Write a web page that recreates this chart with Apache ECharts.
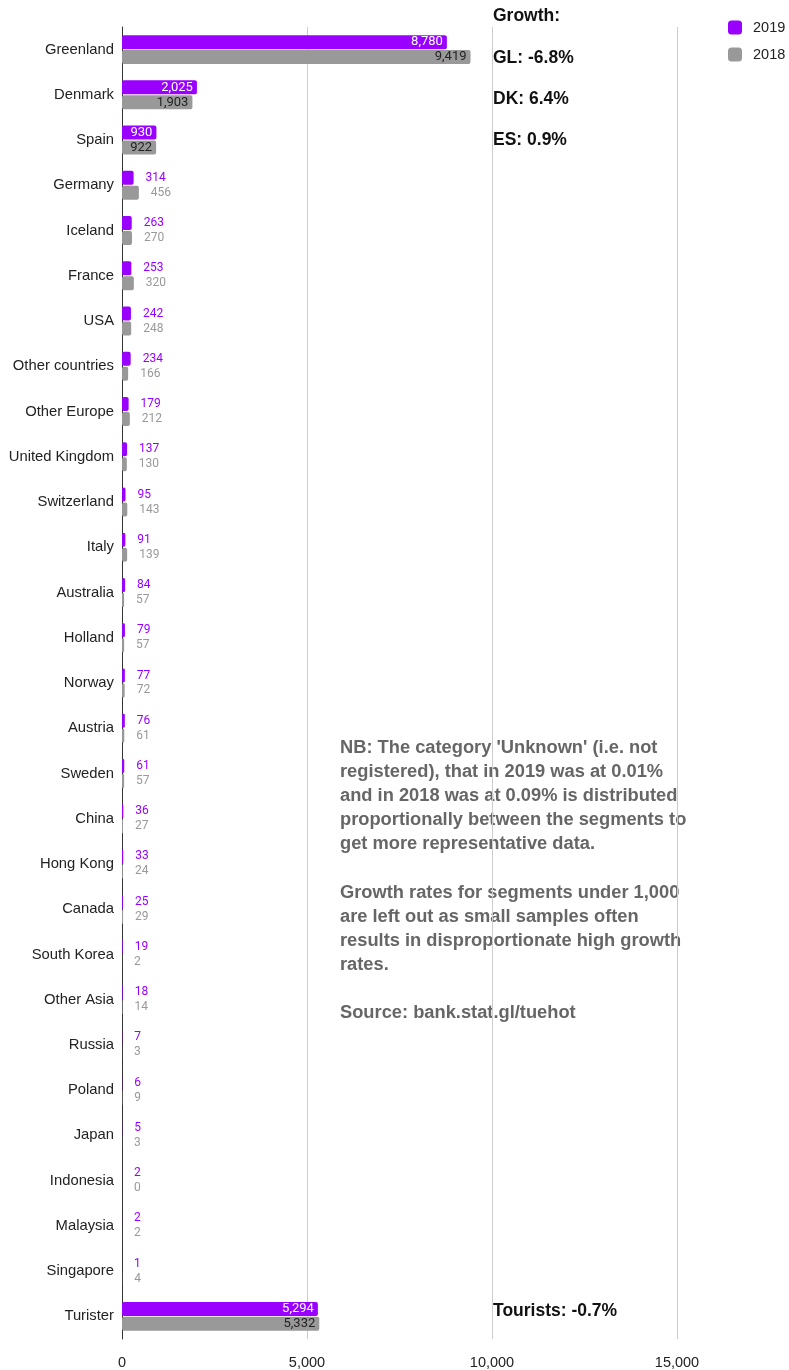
<!DOCTYPE html>
<html>
<head>
<meta charset="utf-8">
<script src="https://cdn.jsdelivr.net/npm/echarts@6/dist/echarts.min.js"></script>
<style>
  html, body { margin: 0; padding: 0; background: #fff; }
  #chart { width: 789px; height: 1370px; }
</style>
</head>
<body>
<div id="chart"></div>
<script>
// Overnight stays by nationality, 2019 vs 2018
const categories = [
  'Greenland', 'Denmark', 'Spain', 'Germany', 'Iceland', 'France', 'USA',
  'Other countries', 'Other Europe', 'United Kingdom', 'Switzerland', 'Italy',
  'Australia', 'Holland', 'Norway', 'Austria', 'Sweden', 'China', 'Hong Kong',
  'Canada', 'South Korea', 'Other Asia', 'Russia', 'Poland', 'Japan',
  'Indonesia', 'Malaysia', 'Singapore', 'Turister'
];
const values2019 = [
  8780, 2025, 930, 314, 263, 253, 242, 234, 179, 137, 95, 91, 84, 79, 77, 76,
  61, 36, 33, 25, 19, 18, 7, 6, 5, 2, 2, 1, 5294
];
const values2018 = [
  9419, 1903, 922, 456, 270, 320, 248, 166, 212, 130, 143, 139, 57, 57, 72, 61,
  57, 27, 24, 29, 2, 14, 3, 9, 3, 0, 2, 4, 5332
];
const xTicks = { min: 0, max: 18000, interval: 5000 };

// Growth annotations: short code -> category
const growthItems = [
  { code: 'GL', cat: 'Greenland', y: 58 },
  { code: 'DK', cat: 'Denmark', y: 99 },
  { code: 'ES', cat: 'Spain', y: 140 },
  { code: 'Tourists', cat: 'Turister', y: 1311 }
];

const noteText = [
  "NB: The category 'Unknown' (i.e. not",
  "registered), that in 2019 was at 0.01%",
  "and in 2018 was at 0.09% is distributed",
  "proportionally between the segments to",
  "get more representative data.",
  "",
  "Growth rates for segments under 1,000",
  "are left out as small samples often",
  "results in disproportionate high growth",
  "rates.",
  "",
  "Source: bank.stat.gl/tuehot"
].join('\n');

const PURPLE = '#9900ff';
const GREY = '#999999';
const fmt = v => Number(v).toLocaleString('en-US');

// big bars carry their label inside the bar end
function barData(values, insideColor) {
  return values.map(v => v >= 900
    ? { value: v, label: { position: 'insideRight', distance: 4, color: insideColor, fontSize: 13 } }
    : v);
}

function growth(cat) {
  const i = categories.indexOf(cat);
  const g = (values2019[i] - values2018[i]) / values2018[i] * 100;
  return g.toFixed(1) + '%';
}

const chart = echarts.init(document.getElementById('chart'));

const headFont = 'bold 17.5px "Liberation Sans", Arial';
const graphics = [
  {
    type: 'text', x: 493, y: 16,
    style: { text: 'Growth:', font: headFont, fill: '#111', verticalAlign: 'middle' }
  },
  ...growthItems.map(g => ({
    type: 'text', x: 493, y: g.y,
    style: {
      text: g.code + ': ' + growth(g.cat),
      font: headFont, fill: '#111', verticalAlign: 'middle'
    }
  })),
  {
    type: 'text', x: 340, y: 736,
    style: {
      text: noteText,
      font: 'bold 18.3px "Liberation Sans", Arial',
      lineHeight: 24.1,
      fill: '#666', verticalAlign: 'top'
    }
  }
];

chart.setOption({
  animation: false,
  textStyle: { fontFamily: '"Liberation Sans", Arial, sans-serif' },
  legend: {
    orient: 'vertical',
    left: 728, top: 20, padding: 0,
    itemWidth: 14, itemHeight: 14, itemGap: 12,
    icon: 'roundRect',
    data: ['2019', '2018'],
    textStyle: { fontSize: 14.5, color: '#222', padding: [0, 0, 0, 6] }
  },
  grid: { left: 122, top: 27, width: 666, height: 1313, containLabel: false },
  xAxis: {
    type: 'value',
    min: xTicks.min, max: xTicks.max, interval: xTicks.interval,
    axisLine: { show: false },
    axisTick: { show: false },
    axisLabel: {
      formatter: v => fmt(v), fontSize: 14.5, color: '#222', margin: 16,
      showMaxLabel: false
    },
    splitLine: { show: true, showMaxLine: false, lineStyle: { color: '#cccccc', width: 1 } }
  },
  yAxis: {
    type: 'category',
    data: categories,
    inverse: true,
    axisLine: { show: true, lineStyle: { color: '#333', width: 1 } },
    axisTick: { show: false },
    axisLabel: { fontSize: 14.8, color: '#222', margin: 8 }
  },
  series: [
    {
      name: '2019', type: 'bar',
      data: barData(values2019, '#ffffff'),
      barWidth: 14, barGap: '7%',
      itemStyle: { color: PURPLE, borderRadius: 2 },
      label: {
        show: true, position: 'right', distance: 12,
        color: PURPLE, fontSize: 12, fontFamily: 'Roboto',
        formatter: p => fmt(p.value)
      }
    },
    {
      name: '2018', type: 'bar',
      data: barData(values2018, '#222222'),
      barWidth: 14, barGap: '7%',
      itemStyle: { color: GREY, borderRadius: 2 },
      label: {
        show: true, position: 'right', distance: 12,
        color: GREY, fontSize: 12, fontFamily: 'Roboto',
        formatter: p => fmt(p.value)
      }
    }
  ],
  graphic: graphics
});
</script>
</body>
</html>
